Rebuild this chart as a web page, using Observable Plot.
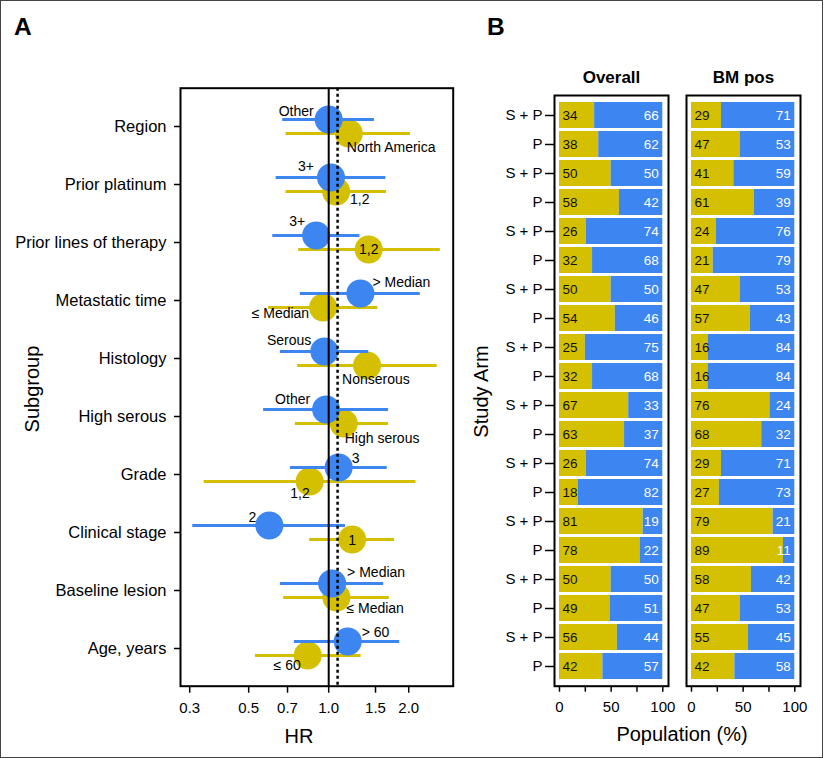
<!DOCTYPE html>
<html><head><meta charset="utf-8">
<script src="https://cdn.jsdelivr.net/npm/d3@7"></script>
<script src="https://cdn.jsdelivr.net/npm/@observablehq/plot@0.6"></script>
<style>
body{margin:0;background:#fff;}
#fig{position:relative;width:825px;height:758px;font-family:"Liberation Sans",Arial,sans-serif;}
#fig > svg, #fig > div{position:absolute;}
#border{left:0;top:0;width:823px;height:758px;box-sizing:border-box;border:1px solid #444;}
</style></head>
<body><div id="fig"><div id="border"></div></div>
<script>
// ---------- Panel A data ----------
const subgroups = ["Region","Prior platinum","Prior lines of therapy","Metastatic time","Histology","High serous","Grade","Clinical stage","Baseline lesion","Age, years"];
const blueLabels = ["Other","3+","3+","> Median","Serous","Other","3","2","> Median","> 60"];
const blueHR = [1.00,1.02,0.897,1.316,0.963,0.978,1.09,0.598,1.03,1.179];
const blueLo = [0.671,0.634,0.616,0.782,0.658,0.569,0.718,0.308,0.658,0.743];
const blueHi = [1.486,1.64,1.31,2.21,1.414,1.68,1.66,1.156,1.61,1.85];
const yellowLabels = ["North America","1,2","1,2","\u2264 Median","Nonserous","High serous","1,2","1","\u2264 Median","\u2264 60"];
const yellowHR = [1.19,1.066,1.414,0.953,1.394,1.139,0.848,1.225,1.069,0.834];
const yellowLo = [0.691,0.691,0.771,0.594,0.764,0.749,0.340,0.848,0.677,0.53];
const yellowHi = [2.03,1.65,2.63,1.53,2.56,1.68,2.13,1.77,1.69,1.324];
const overallHR = 1.08;
const hrTicks = [0.3,0.5,0.7,1.0,1.5,2.0];

// ---------- Panel B data ----------
const panels = ["Overall","BM pos"];
const arms = ["S + P","P","S + P","P","S + P","P","S + P","P","S + P","P","S + P","P","S + P","P","S + P","P","S + P","P","S + P","P"];
const overallYellow = [34,38,50,58,26,32,50,54,25,32,67,63,26,18,81,78,50,49,56,42];
const overallBlue   = [66,62,50,42,74,68,50,46,75,68,33,37,74,82,19,22,50,51,44,57];
const bmYellow = [29,47,41,61,24,21,47,57,16,16,76,68,29,27,79,89,58,47,55,42];
const bmBlue   = [71,53,59,39,76,79,53,43,84,84,24,32,71,73,21,11,42,53,45,58];
const popTicks = [0,25,50,75,100];

// ---------- styling / layout (not data) ----------
const blue = "#3D85F0", yellow = "#D4C000";
const fontFamily = '"Liberation Sans", Arial, sans-serif';
// label placement relative to each dot: [textAnchor, dx, dy]
const bluePlace = [["end",-15,-8],["end",-17,-11],["end",-11,-14],["start",12,-11],["end",-13,-11],["end",-16,-10],["start",13,-9],["middle",-17,-8],["start",15,-11],["start",14,-9]];
const yellowPlace = [["start",-2,14],["start",14,8],["middle",0,0],["end",-14,6],["start",-25,14],["start",1,15],["end",0,12],["middle",0,1],["start",10,11],["end",-7,10]];

const blueRows = subgroups.map((s,i)=>({subgroup:s,hr:blueHR[i],lo:blueLo[i],hi:blueHi[i],label:blueLabels[i]}));
const yellowRows = subgroups.map((s,i)=>({subgroup:s,hr:yellowHR[i],lo:yellowLo[i],hi:yellowHi[i],label:yellowLabels[i]}));

const labelMarks = (rows, place, off) => rows.map((d,i)=>Plot.text([d],{x:"hr",y:"subgroup",text:"label",textAnchor:place[i][0],dx:place[i][1],dy:off+place[i][2],fontSize:14,fill:"#000"}));

const plotA = Plot.plot({
  width:460, height:758,
  marginLeft:180, marginRight:7.3, marginTop:87.7, marginBottom:72.3,
  style:{fontFamily, fontSize:"15px", color:"#000", background:"transparent", overflow:"visible"},
  x:{type:"log", domain:[0.277,2.94]},
  y:{type:"point", domain:subgroups, padding:0.6},
  marks:[
    Plot.ruleY(yellowRows,{y:"subgroup",x1:"lo",x2:"hi",stroke:yellow,strokeWidth:3,dy:7}),
    Plot.dot(yellowRows,{x:"hr",y:"subgroup",r:14,fill:yellow,dy:7}),
    ...labelMarks(yellowRows, yellowPlace, 7),
    ...labelMarks(blueRows, bluePlace, -7),
    Plot.ruleY(blueRows,{y:"subgroup",x1:"lo",x2:"hi",stroke:blue,strokeWidth:3,dy:-7}),
    Plot.dot(blueRows,{x:"hr",y:"subgroup",r:14,fill:blue,dy:-7}),
    Plot.ruleX([1],{stroke:"#000",strokeWidth:2}),
    Plot.ruleX([overallHR],{stroke:"#000",strokeWidth:2.5,strokeDasharray:"3,3"}),
    Plot.frame({stroke:"#000",strokeWidth:2}),
    Plot.axisX({ticks:hrTicks, tickFormat:d3.format(".1f"), tickSize:7, tickPadding:9, label:null, fontSize:15, strokeWidth:1.5}),
    Plot.axisY({tickSize:6, tickPadding:8, label:null, fontSize:16.5, strokeWidth:1.5})
  ]
});
plotA.style.left = "0px"; plotA.style.top = "0px";

const barRows = [];
panels.forEach((p,k)=>arms.forEach((a,i)=>barRows.push({panel:p,row:i,arm:a,yellow:(k?bmYellow:overallYellow)[i],blue:(k?bmBlue:overallBlue)[i]})));

const plotB = Plot.plot({
  width:365, height:758,
  marginLeft:94.3, marginRight:24, marginTop:95, marginBottom:72.3,
  style:{fontFamily, fontSize:"15px", color:"#000", background:"transparent", overflow:"visible"},
  fx:{domain:panels, paddingInner:0.134, paddingOuter:0},
  x:{domain:[0,100], insetLeft:5, insetRight:5.7},
  y:{type:"band", domain:d3.range(arms.length), paddingInner:0.1, paddingOuter:0.05, insetTop:2.9, insetBottom:2.9},
  marks:[
    Plot.barX(barRows,{fx:"panel",y:"row",x1:0,x2:"yellow",fill:yellow}),
    Plot.barX(barRows,{fx:"panel",y:"row",x1:"yellow",x2:100,fill:blue}),
    Plot.text(barRows,{fx:"panel",y:"row",x:0,text:"yellow",textAnchor:"start",dx:3,fill:"#111",fontSize:13.5}),
    Plot.text(barRows,{fx:"panel",y:"row",x:100,text:"blue",textAnchor:"end",dx:-4,fill:"#fff",fontSize:13.5}),
    Plot.frame({stroke:"#000",strokeWidth:2}),
    Plot.axisX({ticks:popTicks, tickFormat:d=>d%50===0?String(d):"", tickSize:6, tickPadding:9, label:null, fontSize:15, strokeWidth:1.5}),
    Plot.axisY({tickFormat:i=>arms[i], tickSize:9, tickPadding:3, label:null, fontSize:15, strokeWidth:1.5}),
    Plot.axisFx({anchor:"top", tickSize:0, tickPadding:13, label:null, fontSize:17, fontWeight:"bold"})
  ]
});
plotB.style.left = "460px"; plotB.style.top = "0px";

const fig = document.getElementById("fig");
fig.appendChild(plotA);
fig.appendChild(plotB);

// titles overlay
const ns = "http://www.w3.org/2000/svg";
const ov = document.createElementNS(ns,"svg");
ov.setAttribute("width",825); ov.setAttribute("height",758);
ov.style.left="0px"; ov.style.top="0px"; ov.style.pointerEvents="none";
ov.style.fontFamily = fontFamily;
const titles = [
  {t:"A", x:14, y:35, size:24.5, w:"bold", anchor:"start"},
  {t:"B", x:487, y:35, size:24.5, w:"bold", anchor:"start"},
  {t:"HR", x:299, y:742.5, size:20, w:"normal", anchor:"middle"},
  {t:"Population (%)", x:682, y:740.5, size:20, w:"normal", anchor:"middle"},
  {t:"Subgroup", x:38.5, y:389, size:20, w:"normal", anchor:"middle", rot:true},
  {t:"Study Arm", x:487.5, y:391.5, size:20, w:"normal", anchor:"middle", rot:true}
];
for (const d of titles) {
  const el = document.createElementNS(ns,"text");
  el.textContent = d.t;
  el.setAttribute("text-anchor", d.anchor);
  el.setAttribute("font-size", d.size);
  el.setAttribute("font-weight", d.w);
  el.setAttribute("fill", "#000");
  if (d.rot) el.setAttribute("transform", `translate(${d.x},${d.y}) rotate(-90)`);
  else { el.setAttribute("x", d.x); el.setAttribute("y", d.y); }
  ov.appendChild(el);
}
fig.appendChild(ov);
</script>
</body></html>
